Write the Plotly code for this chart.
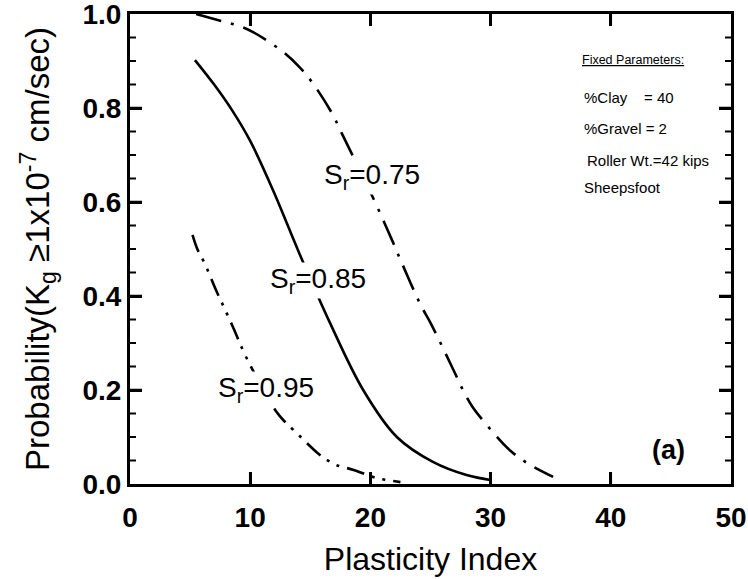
import plotly.graph_objects as go

# Plasticity Index (x) and probability (y)
pi_075 = [5.5, 7.6, 9.0, 10.2, 12.7, 14.1, 15.2, 16.8, 17.6, 20.2, 21.9, 22.5, 24.2, 25.0, 26.9, 27.7, 28.5, 30.4, 31.6, 33.0, 35.2]
p_075 = [1.0, 0.985, 0.975, 0.962, 0.92, 0.887, 0.853, 0.789, 0.747, 0.61, 0.513, 0.477, 0.38, 0.343, 0.243, 0.2, 0.164, 0.104, 0.072, 0.045, 0.015]

pi_085 = [5.4, 7.0, 8.5, 10.0, 11.9, 14.1, 16.6, 19.4, 22.2, 25.2, 28.0, 30.1]
p_085 = [0.902, 0.85, 0.795, 0.73, 0.625, 0.49, 0.345, 0.20, 0.10, 0.047, 0.019, 0.008]

pi_095 = [5.2, 5.6, 6.2, 7.2, 7.8, 8.6, 9.7, 12.2, 12.9, 13.6, 15.6, 16.4, 17.2, 18.6, 20.5, 22.5]
p_095 = [0.53, 0.50, 0.47, 0.41, 0.377, 0.332, 0.268, 0.153, 0.132, 0.115, 0.066, 0.051, 0.04, 0.03, 0.013, 0.004]

y_ticks = [0.0, 0.2, 0.4, 0.6, 0.8, 1.0]
x_ticks = [0, 10, 20, 30, 40, 50]
y_minor_step = 0.05

FONT = "Liberation Sans"

fig = go.Figure()
fig.add_trace(go.Scatter(x=pi_075, y=p_075, mode="lines", line=dict(color="black", width=2.6, dash="26px,10px,3px,10px", shape="spline"), showlegend=False))
fig.add_trace(go.Scatter(x=pi_085, y=p_085, mode="lines", line=dict(color="black", width=2.6, shape="spline"), showlegend=False))
fig.add_trace(go.Scatter(x=pi_095, y=p_095, mode="lines", line=dict(color="black", width=2.6, dash="18px,8px,3px,8px,3px,8px", shape="spline"), showlegend=False))

ann = [
    dict(x=20.13, y=0.655, text="S<sub>r</sub>=0.75"),
    dict(x=15.64, y=0.432, text="S<sub>r</sub>=0.85"),
    dict(x=11.31, y=0.202, text="S<sub>r</sub>=0.95"),
]
for a in ann:
    fig.add_annotation(x=a["x"], y=a["y"], text=a["text"], showarrow=False,
                       font=dict(family=FONT, size=28, color="black"),
                       bgcolor="white", xanchor="center", yanchor="middle", borderpad=0)

fig.add_annotation(x=37.4, y=0.902, text="<u>Fixed Parameters:</u>", showarrow=False, xanchor="left", yanchor="middle",
                   font=dict(family=FONT, size=12.5, color="black"))
params = [("%Clay    = 40", 37.6, 0.823), ("%Gravel = 2", 37.6, 0.757), ("Roller Wt.=42 kips", 37.85, 0.689), ("Sheepsfoot", 37.6, 0.63)]
for t, xx, yy in params:
    fig.add_annotation(x=xx, y=yy, text=t, showarrow=False, xanchor="left", yanchor="middle",
                       font=dict(family=FONT, size=15, color="black"))

fig.add_annotation(x=44.76, y=0.072, text="<b>(a)</b>", showarrow=False, xanchor="center", yanchor="middle",
                   font=dict(family=FONT, size=27, color="black"))

# tick marks on all four edges, placed with the axes' own data scales
x_lo, x_hi = x_ticks[0], x_ticks[-1]
y_lo, y_hi = y_ticks[0], y_ticks[-1]
for v in x_ticks[1:-1]:
    for edge in (y_lo, y_hi):
        fig.add_shape(type="line", xref="x", yref="y", x0=v, x1=v, ysizemode="pixel", yanchor=edge,
                      y0=-12, y1=12, line=dict(color="black", width=2.5))
n_minor = int(round((y_hi - y_lo) / y_minor_step))
for i in range(1, n_minor):
    v = round(y_lo + i * y_minor_step, 4)
    major = any(abs(v - t) < 1e-9 for t in y_ticks)
    ln = 12 if major else 6
    for edge in (x_lo, x_hi):
        fig.add_shape(type="line", xref="x", yref="y", y0=v, y1=v, xsizemode="pixel", xanchor=edge,
                      x0=-ln, x1=ln, line=dict(color="black", width=2.5 if major else 2))

frame = dict(showline=True, linecolor="black", linewidth=3, mirror="ticks",
             ticks="inside", ticklen=12, tickwidth=2.5, tickcolor="black",
             showgrid=False, zeroline=False, automargin=False, ticklabeloverflow="allow",
             tickfont=dict(family=FONT, size=28, color="black", weight="bold"))

fig.update_xaxes(range=[x_lo, x_hi], tickvals=x_ticks, ticklabelstandoff=6,
                 title=dict(text="Plasticity Index", font=dict(family=FONT, size=32, color="black"), standoff=17),
                 **frame)
fig.update_yaxes(range=[y_lo, y_hi], tickvals=y_ticks, tickformat=".1f",
                 title=dict(text="Probability(K<sub>g</sub> ≥1x10<sup>-7</sup> cm/sec)", font=dict(family=FONT, size=33, color="black"), standoff=23),
                 **frame)

fig.update_layout(width=748, height=579, margin=dict(l=130, r=17, t=14, b=95),
                  plot_bgcolor="white", paper_bgcolor="white")

fig.write_html("out.html")
